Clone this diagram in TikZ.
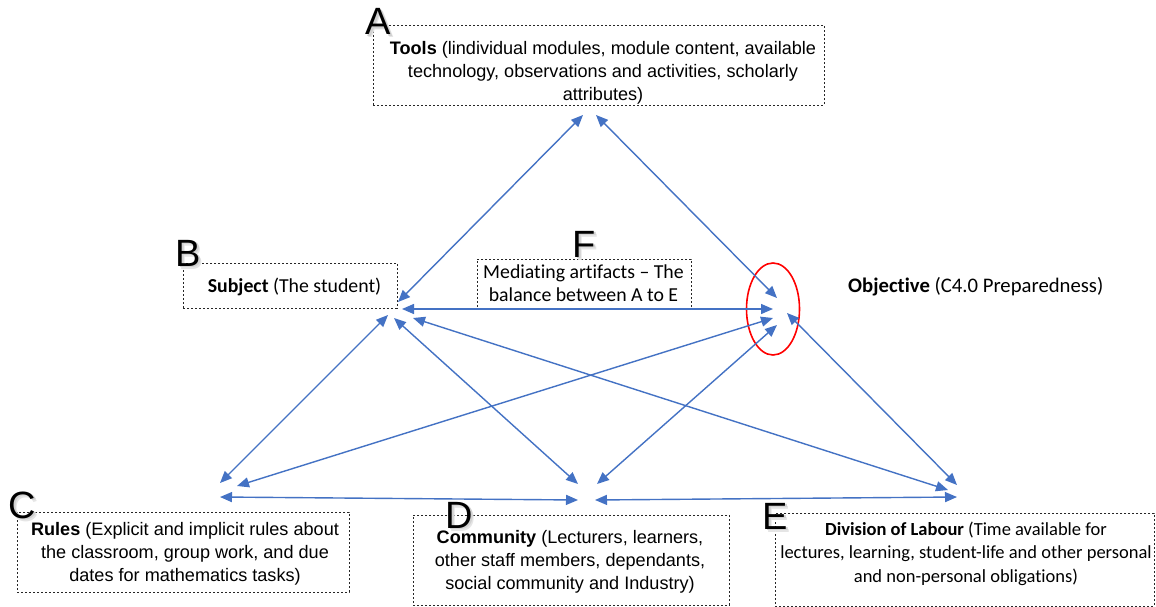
\documentclass[tikz,border=0pt]{standalone}
\usepackage{fontspec}
\setmainfont{Liberation Sans}
\newfontfamily\calibrifont[Ligatures=NoCommon]{Carlito}
\usetikzlibrary{arrows.meta}

\definecolor{linkblue}{RGB}{68,114,196}

% centred lines whose baseline is the first line's baseline
\newcommand\stack[1]{\vtop{\halign{\hfil##\hfil\cr#1\crcr}}}

\tikzset{
  link/.style={draw=linkblue, line width=1.4pt,
    {Triangle[length=12pt,width=10pt]}-{Triangle[length=12pt,width=10pt]}},
  dbox/.style={draw=black!85, line width=0.8pt, dash pattern=on 2.4pt off 1.6pt,
    inner sep=0pt},
  arialtext/.style={inner sep=0pt, anchor=base,
    font=\fontsize{18.1}{23}\selectfont},
  calitext/.style={inner sep=0pt, anchor=base,
    font=\calibrifont\fontsize{19.8}{23.5}\selectfont},
  letter/.style={inner sep=0pt, anchor=base west,
    font=\fontsize{38}{38}\selectfont},
  hub/.style={draw=red, line width=1.6pt}
}

% big corner letter with a soft shadow
\newcommand\capletter[3]{%
  \node[letter, text=black!10, xshift=3pt, yshift=-3pt] (#1s2) at (#2) {#3};
  \node[letter, text=black!18, xshift=1.8pt, yshift=-1.8pt] (#1s1) at (#2) {#3};
  \node[letter] (#1) at (#2) {#3};}

\begin{document}
\begin{tikzpicture}[x=1pt,y=-1pt]
\useasboundingbox (0,0) rectangle (1156,607);
\fill[white] (0,0) rectangle (1156,607);

% dashed boxes
\node[dbox, minimum width=451pt, minimum height=80pt] (toolsbox) at (598.5,65) {};
\node[dbox, minimum width=214pt, minimum height=45pt] (subjbox) at (290,285.5) {};
\node[dbox, minimum width=214pt, minimum height=50pt] (medbox) at (584,284) {};
\node[dbox, minimum width=332pt, minimum height=80pt] (rulesbox) at (183,552) {};
\node[dbox, minimum width=316pt, minimum height=90pt] (commbox) at (571,560) {};
\node[dbox, minimum width=379pt, minimum height=93pt] (divbox) at (964.5,559.5) {};

% texts
\node[arialtext] (tools) at (603,55) {\stack{\textbf{Tools} (lindividual modules, module content, available\cr
  technology, observations and activities, scholarly\cr attributes)}};
\node[calitext] (subject) at (294.5,292) {\textbf{Subject} (The student)};
\node[calitext] (mediating) at (583.5,278) {\stack{Mediating artifacts – The\cr balance between A to E}};
\node[calitext, anchor=base west, font=\calibrifont\fontsize{20.7}{24}\selectfont]
  (objective) at (848,292) {\textbf{Objective} (C4.0 Preparedness)};
\node[arialtext] (rules) at (185,535) {\stack{\textbf{Rules} (Explicit and implicit rules about\cr
  the classroom, group work, and due\cr dates for mathematics tasks)}};
\node[arialtext] (community) at (570,543) {\stack{\textbf{Community} (Lecturers, learners,\cr
  other staff members, dependants,\cr social community and Industry)}};
\node[calitext, font=\calibrifont\fontsize{18.5}{23.5}\selectfont]
  (division) at (966,535) {\stack{\textbf{Division of Labour} (Time available for\cr
  lectures, learning, student-life and other personal\cr and non-personal obligations)}};

% corner letters
\capletter{la}{365,35}{A}
\capletter{lb}{175,266}{B}
\capletter{lc}{8,518}{C}
\capletter{ld}{445,528}{D}
\capletter{le}{762,529}{E}
\capletter{lf}{572,257}{F}

% ellipse around the objective hub
\draw[hub] (773,309) ellipse [x radius=26.5, y radius=46];

% arrow end points
\coordinate (A1) at (583,115);
\coordinate (A2) at (596,115);
\coordinate (Ba) at (398,302);
\coordinate (Bh) at (402,309);
\coordinate (Bc) at (388,315);
\coordinate (Bd) at (394,318);
\coordinate (Be) at (413,318);
\coordinate (Oa) at (777,298);
\coordinate (Oh) at (773,309);
\coordinate (Oc) at (773,318);
\coordinate (Od) at (777,325);
\coordinate (Oe) at (787,313);
\coordinate (Cb) at (220,483);
\coordinate (Co) at (237,486);
\coordinate (Ch) at (220,497);
\coordinate (Db) at (578,484);
\coordinate (Do) at (597,484);
\coordinate (Dc) at (578,500);
\coordinate (De) at (595,500);
\coordinate (Eb) at (948,490);
\coordinate (Eo) at (957,485);
\coordinate (Ed) at (957,497);

% connectors
\draw[link] (A1) -- (Ba);
\draw[link] (A2) -- (Oa);
\draw[link] (Bh) -- (Oh);
\draw[link] (Bc) -- (Cb);
\draw[link] (Bd) -- (Db);
\draw[link] (Be) -- (Eb);
\draw[link] (Co) -- (Oc);
\draw[link] (Ch) -- (Dc);
\draw[link] (Do) -- (Od);
\draw[link] (De) -- (Ed);
\draw[link] (Oe) -- (Eo);
\end{tikzpicture}
\end{document}
